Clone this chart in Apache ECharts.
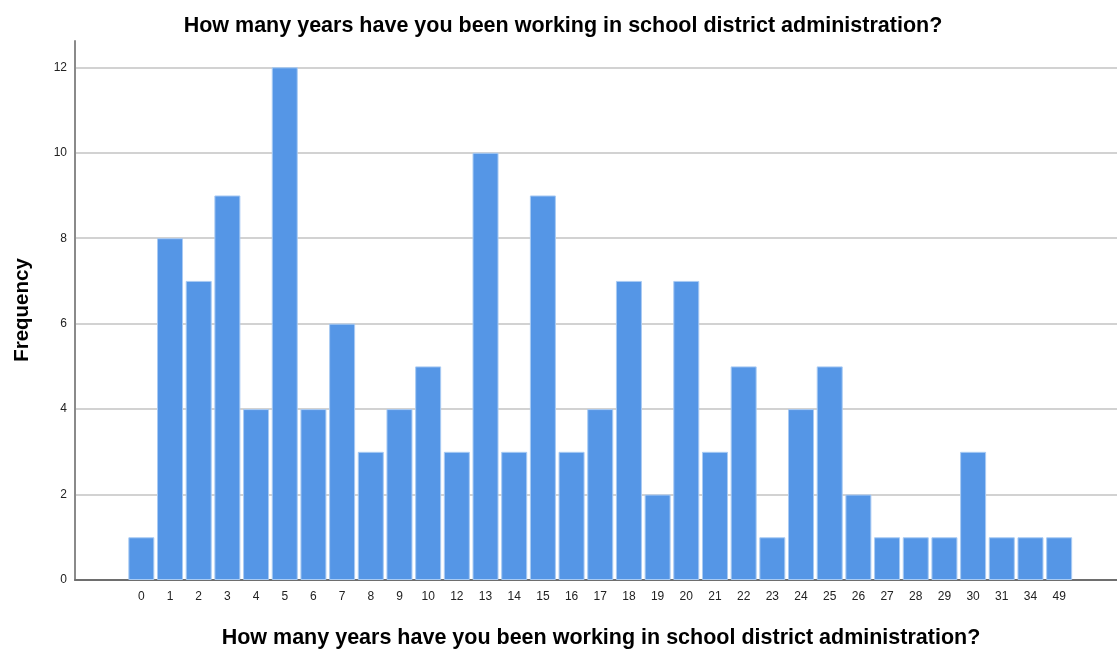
<!DOCTYPE html>
<html>
<head>
<meta charset="utf-8">
<script src="https://cdn.jsdelivr.net/npm/echarts@6/dist/echarts.min.js"></script>
<style>
  html, body { margin: 0; padding: 0; background: #fff; }
  #chart { width: 1117px; height: 649px; }
</style>
</head>
<body>
<div id="chart"></div>
<script>
// Years in school district administration and how many respondents gave each answer
const years = ['0','1','2','3','4','5','6','7','8','9','10','12','13','14','15','16','17','18','19','20','21','22','23','24','25','26','27','28','29','30','31','34','49'];
const frequency = [1,8,7,9,4,12,4,6,3,4,5,3,10,3,9,3,4,7,2,7,3,5,1,4,5,2,1,1,1,3,1,1,1];
const yTicks = [0, 2, 4, 6, 8, 10, 12];

const titleText = 'How many years have you been working in school district administration?';
const yName = 'Frequency';
const font = '"Liberation Sans", Arial, sans-serif';

const chart = echarts.init(document.getElementById('chart'), null, { renderer: 'canvas' });

const plotBottom = 69;
const plotTop = 67.3;

chart.setOption({
  backgroundColor: '#ffffff',
  animation: false,
  title: [
    {
      text: titleText,
      left: 558, top: 10, textAlign: 'center',
      textStyle: { fontFamily: font, fontSize: 21.5, fontWeight: 'bold', color: '#000' }
    },
    {
      text: titleText,
      left: 596, top: 622, textAlign: 'center',
      textStyle: { fontFamily: font, fontSize: 21.5, fontWeight: 'bold', color: '#000' }
    }
  ],
  graphic: [
    {
      type: 'text',
      x: 22, y: 310,
      rotation: Math.PI / 2,
      style: {
        text: yName,
        font: 'bold 20.5px ' + font,
        fill: '#000',
        align: 'center',
        verticalAlign: 'middle'
      }
    }
  ],
  grid: [
    // frame: axis lines
    { left: 75, right: 0, top: 41, bottom: plotBottom },
    // value scale with gridlines
    { left: 75, right: 0, top: plotTop, bottom: plotBottom },
    // category band holding the bars
    { left: 127, right: 43.5, top: plotTop, bottom: plotBottom }
  ],
  xAxis: [
    { gridIndex: 0, type: 'value', min: 0, max: 1,
      axisLine: { show: true, lineStyle: { color: '#6e6e6e', width: 2 } },
      axisTick: { show: false }, axisLabel: { show: false }, splitLine: { show: false } },
    { gridIndex: 1, type: 'value', min: 0, max: 1, show: false },
    { gridIndex: 2, type: 'category', data: years,
      axisLine: { show: false }, axisTick: { show: false },
      axisLabel: { interval: 0, margin: 11, fontFamily: font, fontSize: 12, color: '#222' } }
  ],
  yAxis: [
    { gridIndex: 0, type: 'value', min: 0, max: 12.62,
      axisLine: { show: true, lineStyle: { color: '#8a8a8a', width: 2 } },
      axisTick: { show: false }, axisLabel: { show: false }, splitLine: { show: false } },
    { gridIndex: 1, type: 'value', min: yTicks[0], max: yTicks[yTicks.length - 1], interval: 2,
      axisLine: { show: false }, axisTick: { show: false },
      axisLabel: { margin: 8, fontFamily: font, fontSize: 12, color: '#222' },
      splitLine: { show: true, lineStyle: { color: '#d2d2d2', width: 2 } } },
    { gridIndex: 2, type: 'value', min: yTicks[0], max: yTicks[yTicks.length - 1], show: false }
  ],
  series: [
    {
      type: 'bar',
      xAxisIndex: 2, yAxisIndex: 2,
      data: frequency,
      barWidth: 26,
      itemStyle: { color: '#5596e6', borderColor: '#a9cbf3', borderWidth: 1 },
      z: 3
    }
  ]
});
</script>
</body>
</html>
